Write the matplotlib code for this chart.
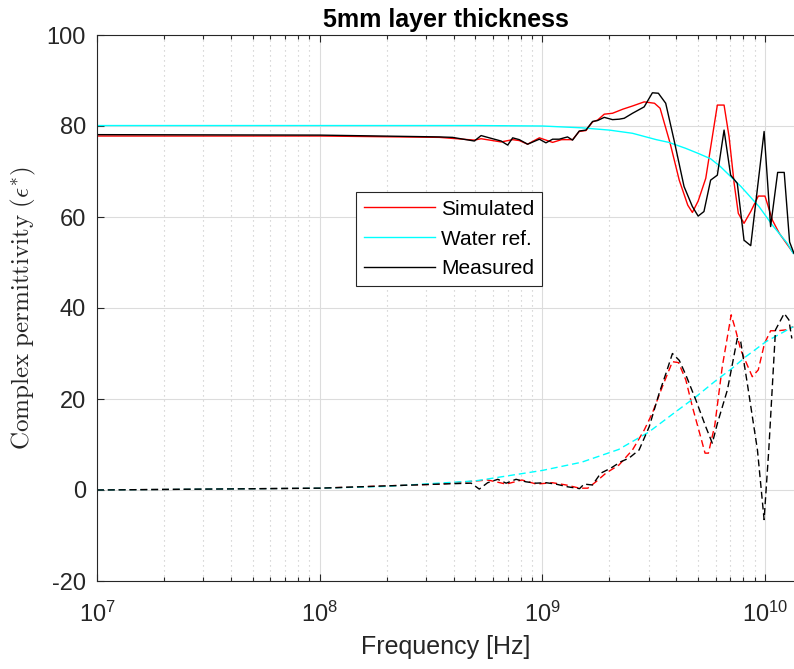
"""
Complex permittivity of a 5mm layer: simulated vs measured vs water reference.
Real parts solid, imaginary parts dashed.
"""

import numpy as np
import matplotlib
matplotlib.use('Agg')
import matplotlib.pyplot as plt
from matplotlib.ticker import LogLocator, NullFormatter

plt.rcParams['font.family'] = ['Liberation Sans', 'DejaVu Sans']
plt.rcParams['mathtext.fontset'] = 'cm'
plt.rcParams['axes.unicode_minus'] = False

# ---------------------------------------------------------
# Data (frequencies in GHz)
# ---------------------------------------------------------
f_sim_re = [0.01, 0.1, 0.345, 0.495, 0.531, 0.653, 0.736, 0.788, 0.859, 0.97,
            1.112, 1.22, 1.367, 1.465, 1.57, 1.682, 1.771, 1.897, 2.067, 2.3,
            2.542, 2.866, 3.19, 3.38, 3.75, 4.12, 4.5, 4.72, 5.01, 5.42,
            5.8, 6.11, 6.55, 6.9, 7.27, 7.59, 8.05, 8.63, 9.33, 10.0,
            10.8, 11.6, 13.4]
eps_sim_re = [77.8, 77.8, 77.5, 76.9, 77.2, 76.5, 77.0, 76.8, 76.0, 77.4,
              76.4, 77.0, 77.0, 78.8, 79.0, 80.9, 81.3, 82.6, 82.8, 83.7,
              84.4, 85.3, 85.0, 83.9, 76.2, 68.1, 62.6, 61.0, 63.5, 68.5,
              77.6, 84.6, 84.6, 77.6, 67.4, 60.8, 58.6, 61.2, 64.6, 64.6,
              59.3, 56.4, 52.1]

f_meas_re = [0.01, 0.1, 0.345, 0.395, 0.495, 0.531, 0.578, 0.653, 0.699, 0.736,
             0.788, 0.859, 0.97, 1.038, 1.112, 1.191, 1.298, 1.367, 1.465, 1.57,
             1.682, 1.771, 1.897, 2.067, 2.214, 2.333, 2.542, 2.866, 3.122, 3.32,
             3.582, 3.905, 4.33, 4.72, 5.01, 5.32, 5.7, 6.11, 6.55, 7.01,
             7.51, 8.05, 8.63, 9.91, 10.6, 11.4, 12.2, 12.9, 13.5]
eps_meas_re = [78.1, 78.0, 77.6, 77.5, 76.7, 77.9, 77.4, 76.7, 75.8, 77.4,
               77.0, 76.0, 77.1, 76.3, 77.1, 77.1, 77.6, 76.9, 78.9, 79.1,
               81.0, 81.2, 81.9, 81.4, 81.5, 81.7, 82.8, 84.2, 87.3, 87.2,
               85.0, 76.9, 66.7, 62.3, 60.2, 61.2, 68.1, 69.2, 79.1, 69.2,
               67.4, 54.9, 53.7, 78.8, 57.9, 69.8, 69.8, 54.5, 52.0]

f_wat_re = [0.01, 0.1, 0.5, 1.0, 1.5, 2.0, 2.54, 3.25, 3.7, 4.4,
            5.0, 5.7, 6.3, 7.8, 9.4, 10.8, 12.6, 13.4]
eps_wat_re = [80.1, 80.1, 80.1, 80.0, 79.6, 79.1, 78.4, 77.0, 76.4, 75.1,
              74.0, 72.8, 71.1, 66.7, 62.3, 58.2, 54.2, 52.0]

f_sim_im = [0.01, 0.1, 0.345, 0.568, 0.688, 0.81, 0.94, 1.11, 1.28, 1.47,
            1.6, 1.74, 1.93, 2.21, 2.54, 2.87, 3.12, 3.46, 3.84, 4.09,
            4.41, 4.72, 5.14, 5.38, 5.57, 5.95, 6.43, 7.05, 7.38, 7.78,
            8.77, 9.33, 9.95, 10.6, 11.4, 12.5, 13.4]
eps_sim_im = [0.0, 0.4, 1.3, 2.2, 1.3, 2.2, 1.3, 1.6, 1.1, 0.4,
              0.4, 1.8, 3.7, 5.5, 8.8, 13.2, 16.9, 22.7, 28.2, 28.0,
              24.2, 18.3, 11.7, 8.1, 8.1, 14.2, 27.1, 38.5, 35.2, 30.8,
              24.9, 26.4, 32.2, 35.0, 35.0, 35.2, 35.9]

f_meas_im = [0.01, 0.1, 0.345, 0.479, 0.521, 0.568, 0.631, 0.688, 0.762, 0.845,
             0.936, 1.04, 1.15, 1.3, 1.47, 1.54, 1.68, 1.83, 2.03, 2.25,
             2.45, 2.72, 3.02, 3.35, 3.59, 3.84, 4.12, 4.41, 4.89, 5.42,
             5.8, 6.11, 6.78, 7.51, 7.78, 8.33, 9.25, 9.91, 10.4, 11.15,
             12.2, 12.8, 13.2]
eps_meas_im = [0.0, 0.4, 1.3, 1.5, 0.2, 1.6, 2.35, 1.5, 2.35, 1.8,
               1.5, 1.6, 1.3, 0.7, 0.3, 1.3, 1.1, 3.7, 4.8, 6.2,
               7.0, 8.8, 13.9, 21.3, 25.6, 30.0, 28.5, 25.3, 19.8, 13.9,
               10.3, 14.6, 22.0, 33.3, 32.6, 23.4, 8.8, -6.5, 8.8, 35.2,
               38.8, 37.4, 33.3]

f_wat_im = [0.01, 0.1, 0.2, 0.5, 1.0, 1.5, 2.2, 3.0, 4.0, 4.9,
            6.0, 7.1, 8.2, 10.1, 13.4]
eps_wat_im = [0.0, 0.4, 0.8, 2.0, 4.3, 6.1, 8.9, 12.7, 17.3, 20.5,
              24.0, 26.7, 29.3, 32.6, 35.9]

# GHz -> Hz
f_sim_re, f_meas_re, f_wat_re = [np.array(f) * 1e9 for f in (f_sim_re, f_meas_re, f_wat_re)]
f_sim_im, f_meas_im, f_wat_im = [np.array(f) * 1e9 for f in (f_sim_im, f_meas_im, f_wat_im)]

# ---------------------------------------------------------
# Plot
# ---------------------------------------------------------
fig = plt.figure(figsize=(7.94, 6.69), dpi=100)
ax = fig.add_axes([97 / 794, 88 / 669, 697 / 794, 546 / 669])

lw = 1.0
dash = (5, 2.8)
ax.semilogx(f_sim_re, eps_sim_re, color='#ff0000', lw=lw, label='Simulated')
ax.semilogx(f_wat_re, eps_wat_re, color='#00ffff', lw=lw, label='Water ref.')
ax.semilogx(f_meas_re, eps_meas_re, color='black', lw=lw, label='Measured')
ax.semilogx(f_sim_im, eps_sim_im, color='#ff0000', lw=lw, dashes=dash)
ax.semilogx(f_wat_im, eps_wat_im, color='#00ffff', lw=lw, dashes=dash)
ax.semilogx(f_meas_im, eps_meas_im, color='black', lw=lw, dashes=dash)

ax.set_xlim(1e7, 1.35e10)
ax.set_ylim(-20, 100)
ax.set_yticks(np.arange(-20, 101, 20))
ax.xaxis.set_major_locator(LogLocator(base=10, numticks=10))
ax.xaxis.set_minor_locator(LogLocator(base=10, subs=np.arange(2, 10), numticks=20))
ax.xaxis.set_minor_formatter(NullFormatter())

ax.grid(True, which='major', color='#dcdcdc', lw=0.8)
ax.grid(True, which='minor', axis='x', color='#c4c4c4', lw=0.8, ls=(0, (1, 3.5)))
ax.set_axisbelow(True)

ax.tick_params(which='both', direction='in', top=True, right=False,
               colors='#262626', labelsize=17, width=0.8)
ax.tick_params(which='major', length=5)
ax.tick_params(which='minor', length=3)
ax.tick_params(axis='x', which='major', pad=15)
ax.tick_params(axis='y', which='major', pad=8)
for side in ['left', 'bottom', 'top']:
    ax.spines[side].set_color('#262626')
    ax.spines[side].set_linewidth(0.8)
ax.spines['right'].set_visible(False)

ax.set_title('5mm layer thickness', fontsize=18, fontweight='bold', pad=6)
ax.set_xlabel('Frequency [Hz]', fontsize=18, color='#262626', labelpad=6)
ax.set_ylabel(r'$\mathrm{Complex\ permittivity\ (\epsilon^{*})}$', fontsize=18,
              color='#262626', labelpad=6)

leg = ax.legend(loc='upper left', bbox_to_anchor=(0.372, 0.712), fontsize=15,
                fancybox=False, framealpha=1, edgecolor='#262626',
                handlelength=3.4, handletextpad=0.3, labelspacing=0.52,
                borderpad=0.36, borderaxespad=0)
leg.get_frame().set_linewidth(0.8)

fig.savefig('out.png', dpi=100)
